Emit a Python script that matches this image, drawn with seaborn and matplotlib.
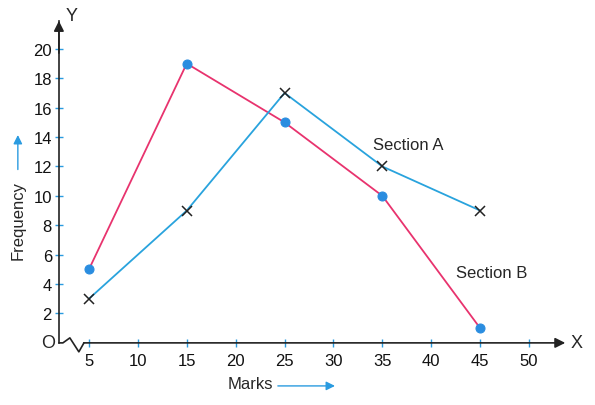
import matplotlib
matplotlib.use("Agg")
import matplotlib.pyplot as plt
import seaborn as sns
import pandas as pd

marks = [5, 15, 25, 35, 45]
section_a = [3, 9, 17, 12, 9]
section_b = [5, 19, 15, 10, 1]
x_ticks = [5, 10, 15, 20, 25, 30, 35, 40, 45, 50]
y_ticks = [2, 4, 6, 8, 10, 12, 14, 16, 18, 20]

df = pd.DataFrame({"Marks": marks, "A": section_a, "B": section_b})

sns.set_style("white")
plt.rcParams['font.family'] = ['Liberation Sans', 'DejaVu Sans']

fig = plt.figure(figsize=(5.95, 4.06), dpi=100)
ax = fig.add_axes([0.099, 0.153, 0.851, 0.793])

sns.lineplot(data=df, x="Marks", y="B", ax=ax, color="#e8336e", lw=1.3,
             marker="o", markersize=6.5, markerfacecolor="#2a8de0",
             markeredgecolor="#2a8de0")
sns.lineplot(data=df, x="Marks", y="A", ax=ax, color="#29a3dd", lw=1.3,
             marker="x", markersize=6.5, markeredgecolor="#222222",
             markeredgewidth=1.1)

ax.set_xlim(1.93, 53.7)
ax.set_ylim(0, 21.9)
for s in ["top", "right", "bottom"]:
    ax.spines[s].set_visible(False)
ax.spines["left"].set_color("#222222")
ax.spines["left"].set_linewidth(1.2)

# x axis from after the break, with arrow
ax.annotate("", xy=(1.0, 0), xytext=(0.049, 0), xycoords="axes fraction",
            arrowprops=dict(arrowstyle="-|>", color="#222222", lw=1.2,
                            mutation_scale=15, shrinkA=0, shrinkB=0),
            annotation_clip=False)
# y arrow head
ax.annotate("", xy=(0, 1.0), xytext=(0, 0.9), xycoords="axes fraction",
            arrowprops=dict(arrowstyle="-|>", color="#222222", lw=1.2,
                            mutation_scale=15, shrinkA=0, shrinkB=0),
            annotation_clip=False)
# break zigzag
ax.plot([1.93, 2.34, 3.05, 3.97, 4.49], [0, 0, 0.34, -0.61, 0.0],
        color="#222222", lw=1.2, clip_on=False)

ax.set_xticks(x_ticks)
ax.set_yticks(y_ticks)
ax.tick_params(axis="both", direction="inout", length=6, width=1.0,
               color="#2a9be0", labelsize=12, labelcolor="#111111",
               bottom=True, left=True)
ax.tick_params(axis="x", pad=4)
ax.tick_params(axis="y", pad=2)
ax.set_xlabel("")
ax.set_ylabel("")

ax.text(3.2, 22.25, "Y", ha="center", va="center", fontsize=13,
        clip_on=False)
ax.text(54.2, 0, "X", ha="left", va="center", fontsize=13)
ax.text(1.93 - 0.4, 0, "O", ha="right", va="center", fontsize=13)

ax.text(37.6, 13.5, "Section A", ha="center", va="center", fontsize=12)
ax.text(46.2, 4.8, "Section B", ha="center", va="center", fontsize=12)

fig.text(0.03, 0.458, "Frequency", rotation=90, ha="center", va="center",
         fontsize=12)
ax.annotate("", xy=(0.03, 0.665), xytext=(0.03, 0.58), xycoords="figure fraction",
            arrowprops=dict(arrowstyle="-|>", color="#2a9be0", lw=1.0,
                            mutation_scale=13, shrinkA=0, shrinkB=0),
            annotation_clip=False)
fig.text(0.42, 0.052, "Marks", ha="center", va="center", fontsize=12)
ax.annotate("", xy=(0.563, 0.047), xytext=(0.467, 0.047),
            xycoords="figure fraction",
            arrowprops=dict(arrowstyle="-|>", color="#2a9be0", lw=1.0,
                            mutation_scale=13, shrinkA=0, shrinkB=0),
            annotation_clip=False)

fig.savefig("out.png", dpi=100)
